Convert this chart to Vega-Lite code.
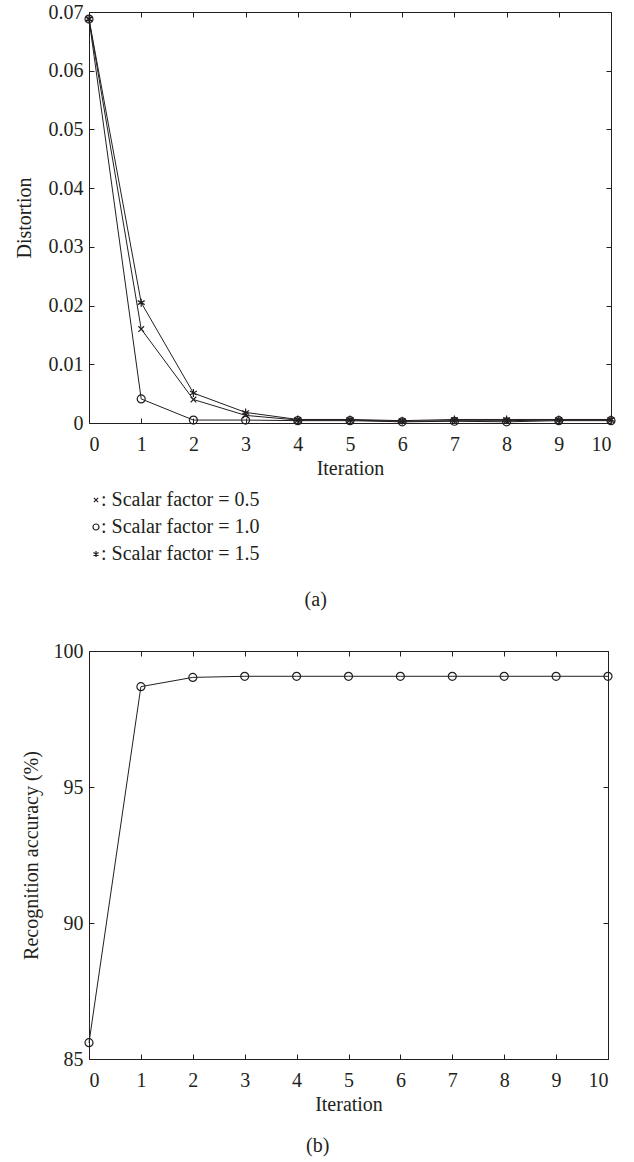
{
  "$schema": "https://vega.github.io/schema/vega-lite/v6.json",
  "padding": {"left": 14, "top": 2, "right": 5, "bottom": 3},
  "spacing": 31,
  "config": {
    "font": "Liberation Serif, DejaVu Serif, serif",
    "view": {"stroke": null},
    "axis": {
      "grid": false,
      "domainColor": "#231f20",
      "domainWidth": 1,
      "tickColor": "#231f20",
      "tickSize": -5,
      "tickWidth": 1,
      "labelFont": "Liberation Serif, DejaVu Serif, serif",
      "labelFontSize": 20,
      "labelColor": "#231f20",
      "titleFont": "Liberation Serif, DejaVu Serif, serif",
      "titleFontSize": 20,
      "titleFontWeight": "normal",
      "titleColor": "#231f20"
    },
    "title": {"font": "Liberation Serif, DejaVu Serif, serif", "fontSize": 20, "fontWeight": "normal", "color": "#231f20"}
  },
  "datasets": {
    "distortion": [
      {"iteration": 0, "series": "Scalar factor = 0.5", "distortion": 0.0688},
      {"iteration": 1, "series": "Scalar factor = 0.5", "distortion": 0.016},
      {"iteration": 2, "series": "Scalar factor = 0.5", "distortion": 0.004},
      {"iteration": 3, "series": "Scalar factor = 0.5", "distortion": 0.0013},
      {"iteration": 4, "series": "Scalar factor = 0.5", "distortion": 0.0005},
      {"iteration": 5, "series": "Scalar factor = 0.5", "distortion": 0.0005},
      {"iteration": 6, "series": "Scalar factor = 0.5", "distortion": 0.0003},
      {"iteration": 7, "series": "Scalar factor = 0.5", "distortion": 0.0004},
      {"iteration": 8, "series": "Scalar factor = 0.5", "distortion": 0.0004},
      {"iteration": 9, "series": "Scalar factor = 0.5", "distortion": 0.0005},
      {"iteration": 10, "series": "Scalar factor = 0.5", "distortion": 0.0005},
      {"iteration": 0, "series": "Scalar factor = 1.0", "distortion": 0.0688},
      {"iteration": 1, "series": "Scalar factor = 1.0", "distortion": 0.0041},
      {"iteration": 2, "series": "Scalar factor = 1.0", "distortion": 0.0005},
      {"iteration": 3, "series": "Scalar factor = 1.0", "distortion": 0.0005},
      {"iteration": 4, "series": "Scalar factor = 1.0", "distortion": 0.0004},
      {"iteration": 5, "series": "Scalar factor = 1.0", "distortion": 0.0004},
      {"iteration": 6, "series": "Scalar factor = 1.0", "distortion": 0.0002},
      {"iteration": 7, "series": "Scalar factor = 1.0", "distortion": 0.0003},
      {"iteration": 8, "series": "Scalar factor = 1.0", "distortion": 0.0002},
      {"iteration": 9, "series": "Scalar factor = 1.0", "distortion": 0.0004},
      {"iteration": 10, "series": "Scalar factor = 1.0", "distortion": 0.0004},
      {"iteration": 0, "series": "Scalar factor = 1.5", "distortion": 0.0688},
      {"iteration": 1, "series": "Scalar factor = 1.5", "distortion": 0.0205},
      {"iteration": 2, "series": "Scalar factor = 1.5", "distortion": 0.0051},
      {"iteration": 3, "series": "Scalar factor = 1.5", "distortion": 0.0018},
      {"iteration": 4, "series": "Scalar factor = 1.5", "distortion": 0.0006},
      {"iteration": 5, "series": "Scalar factor = 1.5", "distortion": 0.0006},
      {"iteration": 6, "series": "Scalar factor = 1.5", "distortion": 0.0004},
      {"iteration": 7, "series": "Scalar factor = 1.5", "distortion": 0.0006},
      {"iteration": 8, "series": "Scalar factor = 1.5", "distortion": 0.0006},
      {"iteration": 9, "series": "Scalar factor = 1.5", "distortion": 0.0006},
      {"iteration": 10, "series": "Scalar factor = 1.5", "distortion": 0.0006}
    ],
    "accuracy": [
      {"iteration": 0, "accuracy": 85.6},
      {"iteration": 1, "accuracy": 98.69},
      {"iteration": 2, "accuracy": 99.03},
      {"iteration": 3, "accuracy": 99.07},
      {"iteration": 4, "accuracy": 99.07},
      {"iteration": 5, "accuracy": 99.07},
      {"iteration": 6, "accuracy": 99.07},
      {"iteration": 7, "accuracy": 99.07},
      {"iteration": 8, "accuracy": 99.07},
      {"iteration": 9, "accuracy": 99.07},
      {"iteration": 10, "accuracy": 99.07}
    ]
  },
  "vconcat": [
    {
      "width": 522,
      "height": 411,
      "data": {"name": "distortion"},
      "title": {"text": "(a)", "orient": "bottom", "anchor": "middle", "frame": "bounds", "offset": 112},
      "layer": [
        {
          "mark": {"type": "line", "color": "#231f20", "strokeWidth": 1},
          "encoding": {
            "x": {"field": "iteration", "type": "quantitative", "scale": {"domain": [0, 10], "nice": false},
                  "axis": {"orient": "bottom", "title": "Iteration", "values": [0,1,2,3,4,5,6,7,8,9,10], "labelPadding": 16, "titlePadding": 4}},
            "y": {"field": "distortion", "type": "quantitative", "scale": {"domain": [0, 0.07], "nice": false},
                  "axis": {"orient": "left", "title": "Distortion", "values": [0,0.01,0.02,0.03,0.04,0.05,0.06,0.07], "format": ".2~f", "labelPadding": 11, "titlePadding": 14}},
            "detail": {"field": "series", "type": "nominal"}
          }
        },
        {
          "mark": {"type": "point", "filled": false, "color": "#231f20", "strokeWidth": 1.2, "size": 64, "opacity": 1},
          "encoding": {
            "x": {"field": "iteration", "type": "quantitative", "axis": {"orient": "top", "labels": false, "title": null, "values": [0,1,2,3,4,5,6,7,8,9,10]}},
            "y": {"field": "distortion", "type": "quantitative", "axis": {"orient": "right", "labels": false, "title": null, "values": [0,0.01,0.02,0.03,0.04,0.05,0.06,0.07]}},
            "shape": {
              "field": "series", "type": "nominal",
              "scale": {
                "domain": ["Scalar factor = 0.5", "Scalar factor = 1.0", "Scalar factor = 1.5"],
                "range": ["M-0.7,-0.7L0.7,0.7M-0.7,0.7L0.7,-0.7", "circle", "M0,-1L0,1M-0.87,-0.5L0.87,0.5M-0.87,0.5L0.87,-0.5"]
              },
              "legend": {
                "title": null, "orient": "none", "legendX": -3, "legendY": 478, "direction": "vertical",
                "labelExpr": "': ' + datum.label", "labelFont": "Liberation Serif, DejaVu Serif, serif", "labelFontSize": 20, "labelColor": "#231f20",
                "labelOffset": -5, "symbolSize": 36, "symbolStrokeWidth": 1.2, "symbolStrokeColor": "#231f20", "symbolFillColor": "transparent", "rowPadding": 7, "padding": 0
              }
            }
          }
        }
      ],
      "resolve": {"axis": {"x": "independent", "y": "independent"}}
    },
    {
      "width": 519,
      "height": 408,
      "data": {"name": "accuracy"},
      "title": {"text": "(b)", "orient": "bottom", "anchor": "middle", "frame": "bounds", "offset": 22},
      "layer": [
        {
          "mark": {"type": "line", "color": "#231f20", "strokeWidth": 1},
          "encoding": {
            "x": {"field": "iteration", "type": "quantitative", "scale": {"domain": [0, 10], "nice": false},
                  "axis": {"orient": "bottom", "title": "Iteration", "values": [0,1,2,3,4,5,6,7,8,9,10], "labelPadding": 16, "titlePadding": 4}},
            "y": {"field": "accuracy", "type": "quantitative", "scale": {"domain": [85, 100], "nice": false},
                  "axis": {"orient": "left", "title": "Recognition accuracy (%)", "values": [85, 90, 95, 100], "labelPadding": 11, "titlePadding": 12}}
          }
        },
        {
          "mark": {"type": "point", "shape": "circle", "filled": false, "color": "#231f20", "strokeWidth": 1.2, "size": 64, "opacity": 1},
          "encoding": {
            "x": {"field": "iteration", "type": "quantitative", "axis": {"orient": "top", "labels": false, "title": null, "values": [0,1,2,3,4,5,6,7,8,9,10]}},
            "y": {"field": "accuracy", "type": "quantitative", "axis": {"orient": "right", "labels": false, "title": null, "values": [85, 90, 95, 100]}}
          }
        }
      ],
      "resolve": {"axis": {"x": "independent", "y": "independent"}}
    }
  ]
}
